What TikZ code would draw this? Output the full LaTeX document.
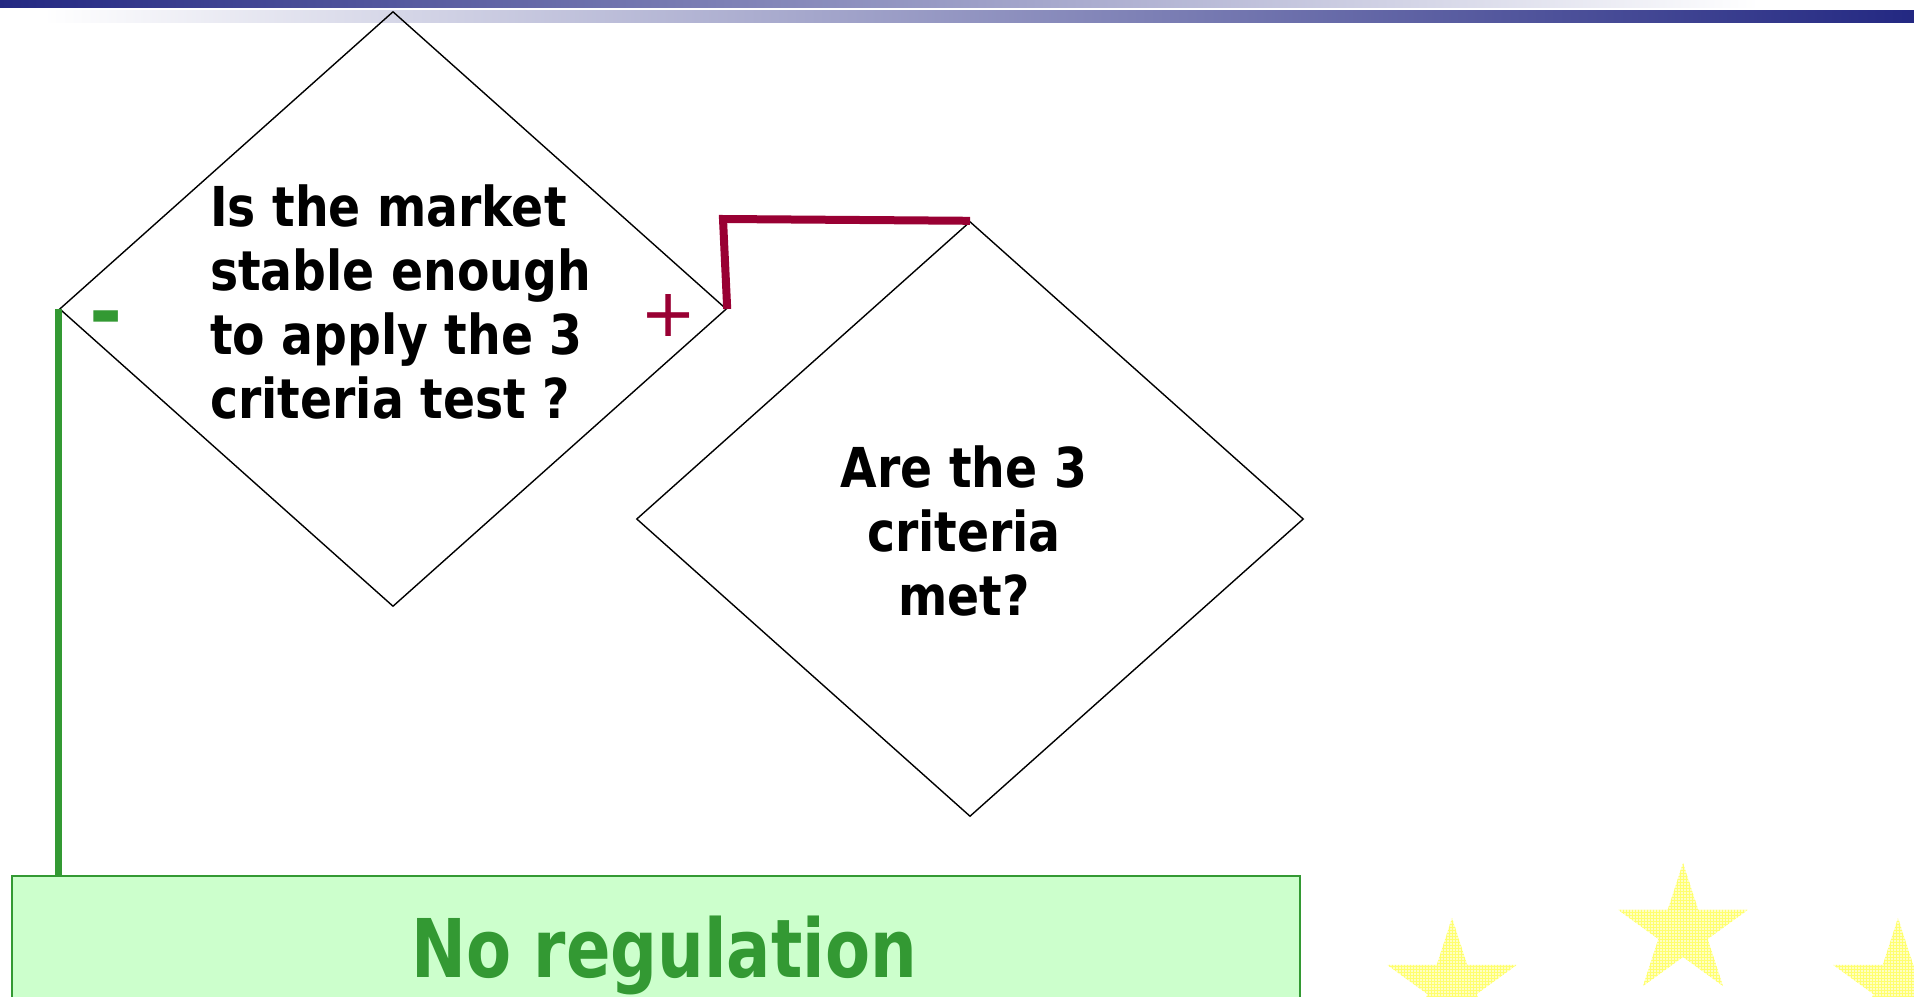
\documentclass[tikz,border=0pt]{standalone}
\usepackage{fontspec}
\setmainfont{DejaVu Sans}[FakeStretch=0.86]
\newfontfamily\signfont{DejaVu Sans}
\newfontfamily\nrfont{DejaVu Sans}[FakeStretch=0.81]
\usetikzlibrary{shapes.geometric,patterns}
\definecolor{navy}{RGB}{35,40,130}
\definecolor{crim}{RGB}{153,0,51}
\definecolor{grn}{RGB}{51,153,51}
\definecolor{lgrn}{RGB}{204,255,204}
\definecolor{stary}{RGB}{255,255,195}
\definecolor{stargrid}{RGB}{255,255,110}
\begin{document}
\begin{tikzpicture}[x=1pt,y=-1pt,
  question/.style={diamond, draw=black, line width=1.4pt, minimum width=667pt, minimum height=595pt, inner sep=0pt},
  qtext/.style={inner sep=0pt, font=\fontsize{55}{64}\selectfont\bfseries},
  yesline/.style={draw=crim, line width=8pt},
  noline/.style={draw=grn, line width=7pt},
  outbox/.style={rectangle, draw=grn, line width=1.5pt, fill=lgrn, inner sep=0pt, minimum width=1288pt, minimum height=160pt, anchor=north west},
  starsty/.style={star, star points=5, star point ratio=2.618, minimum size=136pt, inner sep=0pt, preaction={fill=stary}, pattern=grid, pattern color=stargrid}
]
\useasboundingbox (0,0) rectangle (1914,996);
% top bars
\shade[left color=navy, right color=white] (0,0) rectangle (1758,7);
\shade[left color=white, right color=navy] (43,10) rectangle (1914,22);

% diamonds
\node[question] (d1) at (393,309) {};
\node[question] (d2) at (970,519) {};

\node[qtext, align=left, anchor=north west] (t1) at (210,185) {Is the market\\stable enough\\to apply the 3\\criteria test ?};
\node[qtext, align=center, anchor=north] (t2) at (964,446) {Are the 3\\criteria\\met?};

% box
\node[outbox] (nobox) at (11,875) {};
\node[inner sep=0pt, anchor=base, text=grn, font=\nrfont\fontsize{81}{90}\selectfont\bfseries] (nr) at (664,977) {No regulation};

% connectors
\draw[noline] (d1.west) -- (d1.west |- nobox.north);
\coordinate (rc) at (723,219);
\draw[yesline] (d1.east) -- (rc) -- (d2.north);

% signs
\node[text=grn, inner sep=0pt, font=\signfont\fontsize{80}{80}\selectfont\bfseries] (minus) at (106,325) {-};
\node[text=crim, inner sep=0pt, font=\signfont\fontsize{67}{67}\selectfont] (plus) at (669,315) {+};

% stars
\node[starsty] (s1) at (1452,986) {};
\node[starsty] (s2) at (1683,931) {};
\node[starsty] (s3) at (1898,986) {};
\end{tikzpicture}
\end{document}
